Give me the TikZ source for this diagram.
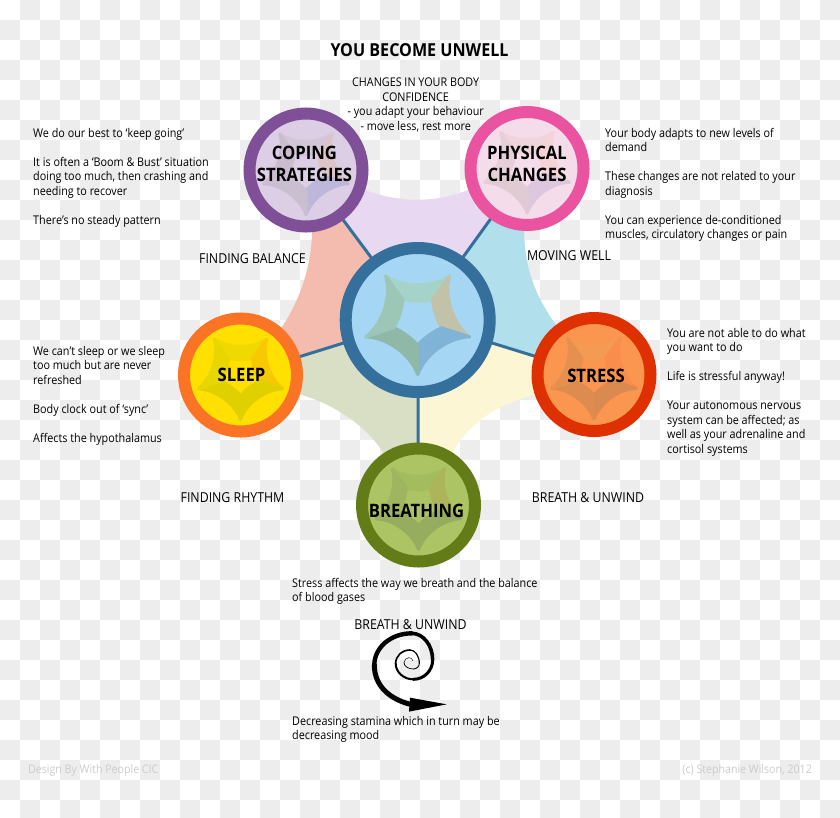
\documentclass[tikz,border=0pt]{standalone}
\usepackage{fontspec}
\setmainfont[FakeStretch=0.9]{Open Sans}
\pgfdeclarelayer{bg}
\pgfsetlayers{bg,main}
\definecolor{checkgray}{HTML}{EDEDED}
\definecolor{spokeblue}{HTML}{356F9B}
\definecolor{hubfill}{HTML}{A5D7F5}
\definecolor{copring}{HTML}{7F4F98}\definecolor{copfill}{HTML}{DCCFE5}
\definecolor{phyring}{HTML}{EA539F}\definecolor{phyfill}{HTML}{F5DCEA}
\definecolor{slpring}{HTML}{FB7425}\definecolor{slpfill}{HTML}{FFE000}
\definecolor{strring}{HTML}{DE3000}\definecolor{strfill}{HTML}{FB9651}
\definecolor{brering}{HTML}{647C17}\definecolor{brefill}{HTML}{ADC465}
\definecolor{pettop}{HTML}{E8D8F2}\definecolor{petright}{HTML}{B2DFEC}
\definecolor{petlr}{HTML}{FDF6D5}\definecolor{petll}{HTML}{D8DFC4}
\definecolor{petleft}{HTML}{F4BCAE}
\newcommand\starband[2]{%
  \filldraw[draw=#2,fill=#2,line width=3pt,line join=round,rotate=#1]
    (-.588,.809) .. controls (-.26,.59) and (.26,.59) .. (.588,.809)
    -- (.27,.372) .. controls (.09,.335) and (-.09,.335) .. (-.27,.372) -- cycle;}
\newcommand\fivestar[7]{%
  \begin{scope}[shift={(#1)},x=#2pt,y=#2pt]
    \starband{0}{#3}\starband{-72}{#4}\starband{-144}{#5}\starband{144}{#6}\starband{72}{#7}
  \end{scope}}
\tikzset{
  small disc/.style n args={2}{circle,draw=#1,fill=#2,line width=12pt,minimum size=113pt,inner sep=0pt,outer sep=0pt},
  disc label/.style={font=\fontsize{18.5}{22}\selectfont\bfseries,align=center,text=black,inner sep=0pt},
  body text/.style={font=\fontsize{12}{14.5}\selectfont,align=left,anchor=north west,inner sep=0pt,text=black},
  head text/.style={font=\fontsize{12}{14.5}\selectfont,align=center,inner sep=0pt,text=black},
  zone text/.style={font=\fontsize{13.7}{16}\selectfont,inner sep=0pt,text=black},
  foot text/.style={font=\fontsize{11.8}{14}\selectfont,text=black!20,inner sep=0pt},
  spoke/.style={draw=spokeblue,line width=3pt},
  spiral/.style={line cap=round,line join=round,draw=black},
}
\begin{document}
\begin{tikzpicture}[x=1pt,y=-1pt]
\useasboundingbox (0,0) rectangle (840,817);
% discs
\node[circle,draw=spokeblue,fill=hubfill,line width=12pt,minimum size=144pt,inner sep=0pt,outer sep=0pt] (hub) at (417.7,320) {};
\node[small disc={copring}{copfill}] (coping) at (306,170) {};
\node[small disc={phyring}{phyfill}] (physical) at (527,168.5) {};
\node[small disc={slpring}{slpfill}] (sleep) at (240.5,375) {};
\node[small disc={strring}{strfill}] (stress) at (594,374.5) {};
\node[small disc={brering}{brefill}] (breathing) at (418.5,505) {};
\begin{pgfonlayer}{bg}
  \fill[white] (0,0) rectangle (840,817);
  \begin{scope}
    \clip (0,0) rectangle (840,817);
    \foreach \i in {0,40,...,840}{
      \foreach \j in {0,40,...,800}{
        \fill[checkgray] (\i+20,\j) rectangle +(20,20);
        \fill[checkgray] (\i,\j+20) rectangle +(20,20);
      }}
  \end{scope}
  \fill[pettop] (coping.center) -- (365,190) .. controls (400,203) and (435,203) .. (468,190) -- (physical.center) -- (hub.center) -- cycle;
  \fill[petright] (physical.center) -- (524,230) .. controls (525,270) and (535,295) .. (556,325) -- (stress.center) -- (hub.center) -- cycle;
  \fill[petlr] (stress.center) -- (533,395) .. controls (500,405) and (470,420) .. (453,452) -- (breathing.center) -- (hub.center) -- cycle;
  \fill[petll] (breathing.center) -- (383,452) .. controls (365,425) and (335,405) .. (302,395) -- (sleep.center) -- (hub.center) -- cycle;
  \fill[petleft] (sleep.center) -- (282,327) .. controls (300,300) and (312,265) .. (312,230) -- (coping.center) -- (hub.center) -- cycle;
  \draw[spoke] (hub) -- (coping);
  \draw[spoke] (hub) -- (physical);
  \draw[spoke] (hub) -- (sleep);
  \draw[spoke] (hub) -- (stress);
  \draw[spoke] (hub) -- (breathing);
\end{pgfonlayer}
% stars
\definecolor{a1}{HTML}{A5D3C9}\definecolor{a2}{HTML}{C2C2A8}\definecolor{a3}{HTML}{7FB4D6}\definecolor{a4}{HTML}{8FB8A8}\definecolor{a5}{HTML}{9CC6B6}
\fivestar{hub.center}{54.5}{a1}{a2}{a3}{a4}{a5}
\definecolor{b1}{HTML}{D3C6D8}\definecolor{b2}{HTML}{DCC4C8}\definecolor{b3}{HTML}{BDB8D9}\definecolor{b4}{HTML}{C9BFD1}\definecolor{b5}{HTML}{CBBCCF}
\fivestar{coping.center}{44.5}{b1}{b2}{b3}{b4}{b5}
\definecolor{c1}{HTML}{EFD4DC}\definecolor{c2}{HTML}{F5D3D6}\definecolor{c3}{HTML}{DCC7DF}\definecolor{c4}{HTML}{E1CBD3}\definecolor{c5}{HTML}{E6CFD8}
\fivestar{physical.center}{44.5}{c1}{c2}{c3}{c4}{c5}
\definecolor{d1}{HTML}{EFD900}\definecolor{d2}{HTML}{F8C800}\definecolor{d3}{HTML}{E0D000}\definecolor{d4}{HTML}{E0D000}\definecolor{d5}{HTML}{E8D600}
\fivestar{sleep.center}{44.5}{d1}{d2}{d3}{d4}{d5}
\definecolor{e1}{HTML}{F49A52}\definecolor{e2}{HTML}{F98D4B}\definecolor{e3}{HTML}{DA8A4E}\definecolor{e4}{HTML}{DD8B4E}\definecolor{e5}{HTML}{E6904F}
\fivestar{stress.center}{44.5}{e1}{e2}{e3}{e4}{e5}
\definecolor{f1}{HTML}{A2BC5E}\definecolor{f2}{HTML}{ADB45A}\definecolor{f3}{HTML}{96AC5E}\definecolor{f4}{HTML}{96AC5E}\definecolor{f5}{HTML}{9FB560}
\fivestar{breathing.center}{44.5}{f1}{f2}{f3}{f4}{f5}
% disc labels
\node[disc label] (lcoping) at (304.5,163.5) {COPING\\STRATEGIES};
\node[disc label] (lphysical) at (527,163.5) {PHYSICAL\\CHANGES};
\node[disc label] (lsleep) at (241.5,374.5) {SLEEP};
\node[disc label] (lstress) at (596,376) {STRESS};
\node[disc label] (lbreathing) at (416.5,510.5) {BREATHING};
% headings
\node[font=\fontsize{17.9}{21}\selectfont\bfseries,inner sep=0pt] (title) at (419.5,50) {YOU BECOME UNWELL};
\node[head text] (toptext) at (415.7,105) {CHANGES IN YOUR BODY\\CONFIDENCE\\- you adapt your behaviour\\- move less, rest more};
\node[zone text] (finbal) at (252.5,258.5) {FINDING BALANCE};
\node[zone text] (movwell) at (569,255.5) {MOVING WELL};
\node[zone text] (finrhy) at (232.5,497.5) {FINDING RHYTHM};
\node[zone text] (brun) at (588,497.5) {BREATH \& UNWIND};
\node[zone text] (brun2) at (410.5,624.5) {BREATH \& UNWIND};
% body text
\node[body text] (tcoping) at (33,128) {We do our best to ‘keep going’\\[14.5pt]It is often a ‘Boom \& Bust’ situation\\doing too much, then crashing and\\needing to recover\\[14.5pt]There’s no steady pattern};
\node[body text] (tphysical) at (605,128) {Your body adapts to new levels of\\demand\\[14.5pt]These changes are not related to your\\diagnosis\\[14.5pt]You can experience de-conditioned\\muscles, circulatory changes or pain};
\node[body text] (tsleep) at (33,346) {We can’t sleep or we sleep\\too much but are never\\refreshed\\[14.5pt]Body clock out of ‘sync’\\[14.5pt]Affects the hypothalamus};
\node[body text] (tstress) at (667,328) {You are not able to do what\\you want to do\\[14.5pt]Life is stressful anyway!\\[14.5pt]Your autonomous nervous\\system can be affected; as\\well as your adrenaline and\\cortisol systems};
\node[body text] (tbreath) at (292,578) {Stress affects the way we breath and the balance\\of blood gases};
\node[body text] (tdecr) at (292,716) {Decreasing stamina which in turn may be\\decreasing mood};
\node[foot text,anchor=west] (fl) at (28,770) {Design By With People CIC};
\node[foot text,anchor=east] (fr) at (812,770) {(c) Stephanie Wilson, 2012};
% spiral
\begin{scope}[shift={(280,570)},x=.3333pt,y=-.3333pt]
  \fill (390,383) -- (500,403) -- (387,425) -- cycle;
  \draw[spiral,line width=5pt] (395,404) .. controls (333,389) and (283,351) .. (283,285);
  \draw[spiral,line width=4.4pt] (283,285) .. controls (283,232.5) and (333,190) .. (395,190);
  \draw[spiral,line width=3.6pt] (395,190) .. controls (430,190) and (458,226) .. (458,270);
  \draw[spiral,line width=3pt] (458,270) .. controls (458,302) and (432,328) .. (400,328);
  \draw[spiral,line width=2pt] (400,328) .. controls (371,328) and (347,306.5) .. (347,280);
  \draw[spiral,line width=1.6pt] (347,280) .. controls (347,258) and (366,240) .. (390,240);
  \draw[spiral,line width=1.2pt] (390,240) .. controls (405.5,240) and (418,258) .. (418,280);
  \draw[spiral,line width=.9pt] (418,280) .. controls (418,289.4) and (410,297) .. (400,297);
  \draw[spiral,line width=.7pt] (400,297) .. controls (384.5,297) and (372,288.5) .. (372,278);
  \draw[spiral,line width=.5pt] (372,278) .. controls (372,270) and (379,263) .. (387,263);
  \draw[spiral,line width=.4pt] (387,263) .. controls (393,263) and (398,267) .. (398,272);
\end{scope}
\end{tikzpicture}
\end{document}
